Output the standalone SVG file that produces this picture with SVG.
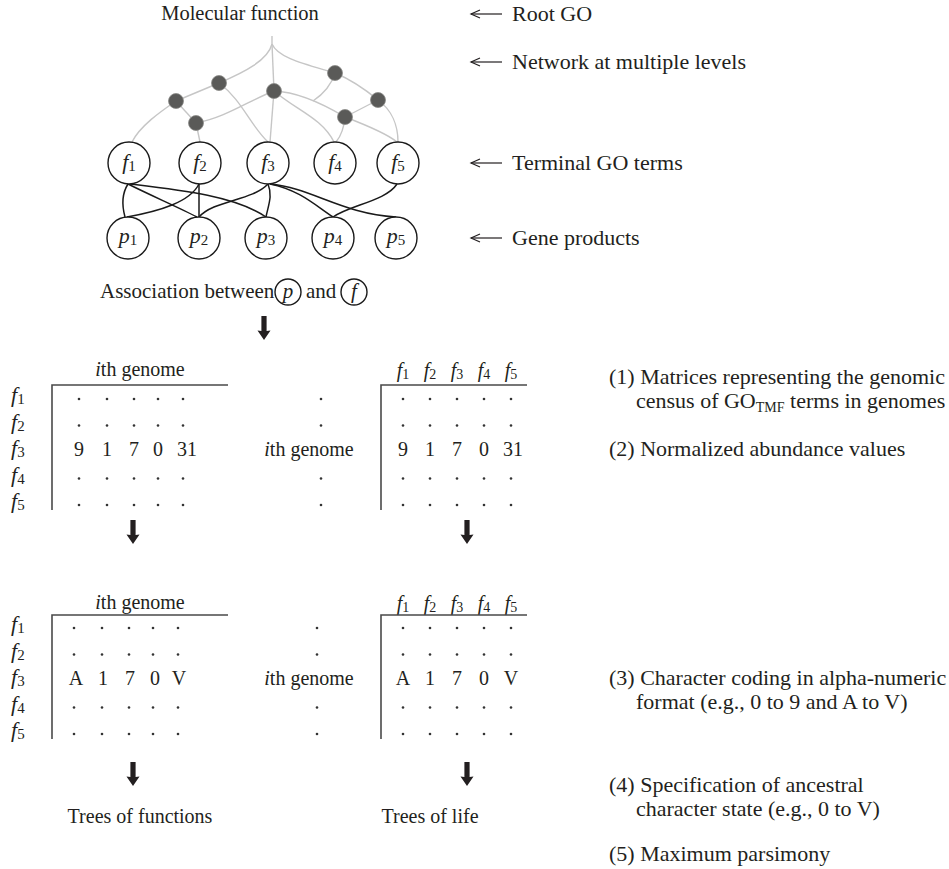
<svg xmlns="http://www.w3.org/2000/svg" width="949" height="869" viewBox="0 0 949 869">
<style>
text{font-family:"Liberation Serif","Times New Roman",serif;font-size:20px;fill:#231f20}
.it{font-style:italic}
.sub{font-size:14px}
.big{font-size:22px}
.lab{font-size:22px}
.lab .sub{font-size:15px}
.net{fill:none;stroke:#c6c6c6;stroke-width:1.4}
.dn{fill:#5a5a58;stroke:#8a8a88;stroke-width:0.8}
.lk{fill:none;stroke:#1a1a1a;stroke-width:1.5}
.nd{fill:#fff;stroke:#1a1a1a;stroke-width:1.4}
.ax{fill:none;stroke:#4a4a4a;stroke-width:1.6}
.pt{fill:#333}
.la{fill:none;stroke:#231f20;stroke-width:1.2}
</style>
<defs>
<path id="darr" d="M-2.6,0 L2.6,0 L2.6,15 L6.5,14.5 L0,24 L-6.5,14.5 L-2.6,15 Z" fill="#231f20"/>
<marker id="lh" markerWidth="12" markerHeight="10" refX="10" refY="5" orient="auto" markerUnits="userSpaceOnUse">
<path d="M1,1 L10,5 L1,9" fill="none" stroke="#231f20" stroke-width="1.2"/>
</marker>
</defs>

<text x="240" y="20" text-anchor="middle" style="font-size:20.5px">Molecular function</text>

<g id="side-labels">
<line class="la" x1="502" y1="14" x2="471" y2="14" marker-end="url(#lh)"/>
<text class="big" x="512" y="21">Root GO</text>
<line class="la" x1="502" y1="62" x2="471" y2="62" marker-end="url(#lh)"/>
<text class="big" x="512" y="69">Network at multiple levels</text>
<line class="la" x1="502" y1="163" x2="471" y2="163" marker-end="url(#lh)"/>
<text class="big" x="512" y="170">Terminal GO terms</text>
<line class="la" x1="502" y1="238" x2="471" y2="238" marker-end="url(#lh)"/>
<text class="big" x="512" y="245">Gene products</text>
</g>

<g id="network-edges">
<path class="net" d="M272,36 L272,44 C268,60 245,72 219,83"/>
<path class="net" d="M272,44 L274,91"/>
<path class="net" d="M272,44 C278,58 305,64 335,73"/>
<path class="net" d="M219,83 L176,101"/>
<path class="net" d="M176,101 C160,112 140,126 132,142"/>
<path class="net" d="M176,101 L196,123"/>
<path class="net" d="M196,123 L200,142"/>
<path class="net" d="M196,123 C225,118 250,100 274,91"/>
<path class="net" d="M219,83 C242,100 250,125 268,142"/>
<path class="net" d="M274,91 L270,142"/>
<path class="net" d="M274,91 C300,92 325,105 345,117"/>
<path class="net" d="M274,91 C296,110 322,118 334,142"/>
<path class="net" d="M335,73 C331,86 322,95 313,101"/>
<path class="net" d="M335,73 C352,80 366,90 378,100"/>
<path class="net" d="M378,100 C392,110 398,126 398,142"/>
<path class="net" d="M378,100 L345,117"/>
<path class="net" d="M345,117 C344,128 341,136 336,142"/>
<path class="net" d="M345,117 C366,125 386,133 397,142"/>
</g>

<g id="network-nodes">
<circle class="dn" cx="219" cy="83" r="7.5"/>
<circle class="dn" cx="176" cy="101" r="7.5"/>
<circle class="dn" cx="196" cy="123" r="7.5"/>
<circle class="dn" cx="274" cy="91" r="7.5"/>
<circle class="dn" cx="335" cy="73" r="7.5"/>
<circle class="dn" cx="378" cy="100" r="7.5"/>
<circle class="dn" cx="345" cy="117" r="7.5"/>
</g>

<g id="connectors">
<path class="lk" d="M128,184 C121,195 122,206 125,217"/>
<path class="lk" d="M128,184 C152,196 180,208 197,217"/>
<path class="lk" d="M130,184 C180,190 235,196 266,217"/>
<path class="lk" d="M199,184 C190,202 160,211 127,217"/>
<path class="lk" d="M199,184 L199,217"/>
<path class="lk" d="M268,184 C252,201 214,200 199,217"/>
<path class="lk" d="M268,184 C273,196 268,206 266,217"/>
<path class="lk" d="M270,184 C300,190 316,206 333,217"/>
<path class="lk" d="M270,184 C312,188 342,214 396,217"/>
<path class="lk" d="M397,184 C386,201 350,205 333,217"/>
</g>

<g id="f1"><circle class="nd" cx="129" cy="163" r="21"/><text class="lab" x="129" y="169" text-anchor="middle"><tspan class="it">f</tspan><tspan class="sub" dy="2">1</tspan></text></g>
<g id="f2"><circle class="nd" cx="200" cy="163" r="21"/><text class="lab" x="200" y="169" text-anchor="middle"><tspan class="it">f</tspan><tspan class="sub" dy="2">2</tspan></text></g>
<g id="f3"><circle class="nd" cx="268" cy="163" r="21"/><text class="lab" x="268" y="169" text-anchor="middle"><tspan class="it">f</tspan><tspan class="sub" dy="2">3</tspan></text></g>
<g id="f4"><circle class="nd" cx="335" cy="163" r="21"/><text class="lab" x="335" y="169" text-anchor="middle"><tspan class="it">f</tspan><tspan class="sub" dy="2">4</tspan></text></g>
<g id="f5"><circle class="nd" cx="398" cy="163" r="21"/><text class="lab" x="398" y="169" text-anchor="middle"><tspan class="it">f</tspan><tspan class="sub" dy="2">5</tspan></text></g>

<g id="p1"><circle class="nd" cx="128" cy="238" r="21"/><text class="lab" x="128" y="243" text-anchor="middle"><tspan class="it">p</tspan><tspan class="sub" dy="2">1</tspan></text></g>
<g id="p2"><circle class="nd" cx="199" cy="238" r="21"/><text class="lab" x="199" y="243" text-anchor="middle"><tspan class="it">p</tspan><tspan class="sub" dy="2">2</tspan></text></g>
<g id="p3"><circle class="nd" cx="266" cy="238" r="21"/><text class="lab" x="266" y="243" text-anchor="middle"><tspan class="it">p</tspan><tspan class="sub" dy="2">3</tspan></text></g>
<g id="p4"><circle class="nd" cx="333" cy="238" r="21"/><text class="lab" x="333" y="243" text-anchor="middle"><tspan class="it">p</tspan><tspan class="sub" dy="2">4</tspan></text></g>
<g id="p5"><circle class="nd" cx="396" cy="238" r="21"/><text class="lab" x="396" y="243" text-anchor="middle"><tspan class="it">p</tspan><tspan class="sub" dy="2">5</tspan></text></g>

<g id="association">
<text x="100" y="298" style="font-size:21px">Association between</text>
<circle class="nd" cx="288" cy="292" r="13" stroke-width="1.1"/>
<text x="288" y="298" text-anchor="middle" class="it" style="font-size:21px">p</text>
<text x="306" y="298" style="font-size:21px">and</text>
<circle class="nd" cx="354" cy="292" r="13" stroke-width="1.1"/>
<text x="354" y="298" text-anchor="middle" class="it" style="font-size:21px">f</text>
</g>
<use href="#darr" x="264" y="316"/>

<!-- top-left matrix -->
<g id="matrix-functions-counts">
<text x="140" y="376" text-anchor="middle"><tspan class="it">i</tspan>th genome</text>
<path class="ax" d="M228,385 H52 V510"/>
<text class="lab" x="11" y="402"><tspan class="it">f</tspan><tspan class="sub" dy="2">1</tspan></text>
<text class="lab" x="11" y="428.5"><tspan class="it">f</tspan><tspan class="sub" dy="2">2</tspan></text>
<text class="lab" x="11" y="455"><tspan class="it">f</tspan><tspan class="sub" dy="2">3</tspan></text>
<text class="lab" x="11" y="481.5"><tspan class="it">f</tspan><tspan class="sub" dy="2">4</tspan></text>
<text class="lab" x="11" y="508"><tspan class="it">f</tspan><tspan class="sub" dy="2">5</tspan></text>
<g class="pt">
<circle cx="79" cy="399" r="1.3"/><circle cx="107" cy="399" r="1.3"/><circle cx="134" cy="399" r="1.3"/><circle cx="158" cy="399" r="1.3"/><circle cx="183" cy="399" r="1.3"/>
<circle cx="79" cy="425.5" r="1.3"/><circle cx="107" cy="425.5" r="1.3"/><circle cx="134" cy="425.5" r="1.3"/><circle cx="158" cy="425.5" r="1.3"/><circle cx="183" cy="425.5" r="1.3"/>
<circle cx="79" cy="478.5" r="1.3"/><circle cx="107" cy="478.5" r="1.3"/><circle cx="134" cy="478.5" r="1.3"/><circle cx="158" cy="478.5" r="1.3"/><circle cx="183" cy="478.5" r="1.3"/>
<circle cx="79" cy="505" r="1.3"/><circle cx="107" cy="505" r="1.3"/><circle cx="134" cy="505" r="1.3"/><circle cx="158" cy="505" r="1.3"/><circle cx="183" cy="505" r="1.3"/>
</g>
<text x="79" y="456" text-anchor="middle">9</text>
<text x="107" y="456" text-anchor="middle">1</text>
<text x="134" y="456" text-anchor="middle">7</text>
<text x="158" y="456" text-anchor="middle">0</text>
<text x="187" y="456" text-anchor="middle">31</text>
</g>

<g id="middle-top">
<g class="pt"><circle cx="321" cy="399" r="1.3"/><circle cx="321" cy="425.5" r="1.3"/><circle cx="321" cy="478.5" r="1.3"/><circle cx="321" cy="505" r="1.3"/></g>
<text x="309" y="456" text-anchor="middle"><tspan class="it">i</tspan>th genome</text>
</g>

<g id="matrix-genomes-counts">
<text x="403" y="377" text-anchor="middle"><tspan class="it">f</tspan><tspan class="sub" dy="2">1</tspan></text>
<text x="430" y="377" text-anchor="middle"><tspan class="it">f</tspan><tspan class="sub" dy="2">2</tspan></text>
<text x="457" y="377" text-anchor="middle"><tspan class="it">f</tspan><tspan class="sub" dy="2">3</tspan></text>
<text x="484" y="377" text-anchor="middle"><tspan class="it">f</tspan><tspan class="sub" dy="2">4</tspan></text>
<text x="511" y="377" text-anchor="middle"><tspan class="it">f</tspan><tspan class="sub" dy="2">5</tspan></text>
<path class="ax" d="M527,385 H381 V510"/>
<g class="pt">
<circle cx="403" cy="399" r="1.3"/><circle cx="430" cy="399" r="1.3"/><circle cx="457" cy="399" r="1.3"/><circle cx="484" cy="399" r="1.3"/><circle cx="511" cy="399" r="1.3"/>
<circle cx="403" cy="425.5" r="1.3"/><circle cx="430" cy="425.5" r="1.3"/><circle cx="457" cy="425.5" r="1.3"/><circle cx="484" cy="425.5" r="1.3"/><circle cx="511" cy="425.5" r="1.3"/>
<circle cx="403" cy="478.5" r="1.3"/><circle cx="430" cy="478.5" r="1.3"/><circle cx="457" cy="478.5" r="1.3"/><circle cx="484" cy="478.5" r="1.3"/><circle cx="511" cy="478.5" r="1.3"/>
<circle cx="403" cy="505" r="1.3"/><circle cx="430" cy="505" r="1.3"/><circle cx="457" cy="505" r="1.3"/><circle cx="484" cy="505" r="1.3"/><circle cx="511" cy="505" r="1.3"/>
</g>
<text x="403" y="456" text-anchor="middle">9</text>
<text x="430" y="456" text-anchor="middle">1</text>
<text x="457" y="456" text-anchor="middle">7</text>
<text x="484" y="456" text-anchor="middle">0</text>
<text x="513" y="456" text-anchor="middle">31</text>
</g>

<use href="#darr" x="133" y="520"/>
<use href="#darr" x="467" y="520"/>

<!-- bottom-left matrix -->
<g id="matrix-functions-coded">
<text x="140" y="609" text-anchor="middle"><tspan class="it">i</tspan>th genome</text>
<path class="ax" d="M228,615 H52 V739"/>
<text class="lab" x="11" y="631"><tspan class="it">f</tspan><tspan class="sub" dy="2">1</tspan></text>
<text class="lab" x="11" y="657.5"><tspan class="it">f</tspan><tspan class="sub" dy="2">2</tspan></text>
<text class="lab" x="11" y="684"><tspan class="it">f</tspan><tspan class="sub" dy="2">3</tspan></text>
<text class="lab" x="11" y="710.5"><tspan class="it">f</tspan><tspan class="sub" dy="2">4</tspan></text>
<text class="lab" x="11" y="737"><tspan class="it">f</tspan><tspan class="sub" dy="2">5</tspan></text>
<g class="pt">
<circle cx="74" cy="628" r="1.3"/><circle cx="102" cy="628" r="1.3"/><circle cx="129" cy="628" r="1.3"/><circle cx="153" cy="628" r="1.3"/><circle cx="178" cy="628" r="1.3"/>
<circle cx="74" cy="654.5" r="1.3"/><circle cx="102" cy="654.5" r="1.3"/><circle cx="129" cy="654.5" r="1.3"/><circle cx="153" cy="654.5" r="1.3"/><circle cx="178" cy="654.5" r="1.3"/>
<circle cx="74" cy="707.5" r="1.3"/><circle cx="102" cy="707.5" r="1.3"/><circle cx="129" cy="707.5" r="1.3"/><circle cx="153" cy="707.5" r="1.3"/><circle cx="178" cy="707.5" r="1.3"/>
<circle cx="74" cy="734" r="1.3"/><circle cx="102" cy="734" r="1.3"/><circle cx="129" cy="734" r="1.3"/><circle cx="153" cy="734" r="1.3"/><circle cx="178" cy="734" r="1.3"/>
</g>
<text x="76" y="685" text-anchor="middle">A</text>
<text x="103" y="685" text-anchor="middle">1</text>
<text x="130" y="685" text-anchor="middle">7</text>
<text x="155" y="685" text-anchor="middle">0</text>
<text x="179" y="685" text-anchor="middle">V</text>
</g>

<g id="middle-bottom">
<g class="pt"><circle cx="317" cy="628" r="1.3"/><circle cx="317" cy="654.5" r="1.3"/><circle cx="317" cy="707.5" r="1.3"/><circle cx="317" cy="734" r="1.3"/></g>
<text x="309" y="685" text-anchor="middle"><tspan class="it">i</tspan>th genome</text>
</g>

<g id="matrix-genomes-coded">
<text x="403" y="610" text-anchor="middle"><tspan class="it">f</tspan><tspan class="sub" dy="2">1</tspan></text>
<text x="430" y="610" text-anchor="middle"><tspan class="it">f</tspan><tspan class="sub" dy="2">2</tspan></text>
<text x="457" y="610" text-anchor="middle"><tspan class="it">f</tspan><tspan class="sub" dy="2">3</tspan></text>
<text x="484" y="610" text-anchor="middle"><tspan class="it">f</tspan><tspan class="sub" dy="2">4</tspan></text>
<text x="511" y="610" text-anchor="middle"><tspan class="it">f</tspan><tspan class="sub" dy="2">5</tspan></text>
<path class="ax" d="M527,615 H381 V739"/>
<g class="pt">
<circle cx="403" cy="628" r="1.3"/><circle cx="430" cy="628" r="1.3"/><circle cx="457" cy="628" r="1.3"/><circle cx="484" cy="628" r="1.3"/><circle cx="511" cy="628" r="1.3"/>
<circle cx="403" cy="654.5" r="1.3"/><circle cx="430" cy="654.5" r="1.3"/><circle cx="457" cy="654.5" r="1.3"/><circle cx="484" cy="654.5" r="1.3"/><circle cx="511" cy="654.5" r="1.3"/>
<circle cx="403" cy="707.5" r="1.3"/><circle cx="430" cy="707.5" r="1.3"/><circle cx="457" cy="707.5" r="1.3"/><circle cx="484" cy="707.5" r="1.3"/><circle cx="511" cy="707.5" r="1.3"/>
<circle cx="403" cy="734" r="1.3"/><circle cx="430" cy="734" r="1.3"/><circle cx="457" cy="734" r="1.3"/><circle cx="484" cy="734" r="1.3"/><circle cx="511" cy="734" r="1.3"/>
</g>
<text x="403" y="685" text-anchor="middle">A</text>
<text x="430" y="685" text-anchor="middle">1</text>
<text x="457" y="685" text-anchor="middle">7</text>
<text x="484" y="685" text-anchor="middle">0</text>
<text x="511" y="685" text-anchor="middle">V</text>
</g>

<use href="#darr" x="133" y="762"/>
<use href="#darr" x="467" y="762"/>
<text x="140" y="823" text-anchor="middle">Trees of functions</text>
<text x="430" y="823" text-anchor="middle">Trees of life</text>

<g id="steps">
<text class="big" x="609" y="384">(1) Matrices representing the genomic</text>
<text class="big" x="636" y="408">census of GO<tspan class="sub" dy="4">TMF</tspan><tspan dy="-4"> terms in genomes</tspan></text>
<text class="big" x="609" y="456">(2) Normalized abundance values</text>
<text class="big" x="609" y="685">(3) Character coding in alpha-numeric</text>
<text class="big" x="636" y="709">format (e.g., 0 to 9 and A to V)</text>
<text class="big" x="609" y="792">(4) Specification of ancestral</text>
<text class="big" x="636" y="816">character state (e.g., 0 to V)</text>
<text class="big" x="609" y="861">(5) Maximum parsimony</text>
</g>
</svg>
